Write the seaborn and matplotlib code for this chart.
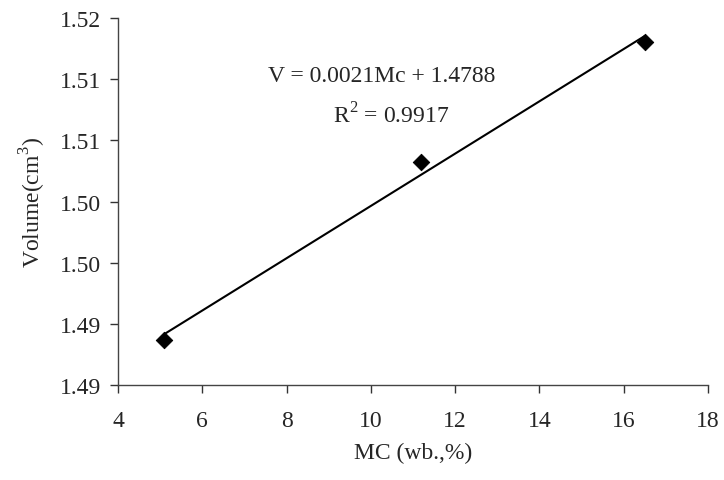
import matplotlib
matplotlib.use("Agg")
import matplotlib.pyplot as plt
import seaborn as sns
import numpy as np
import pandas as pd

# Data
mc = [5.1, 11.2, 16.5]
volume = [1.4887, 1.5032, 1.5130]
y_ticks = [1.485, 1.490, 1.495, 1.500, 1.505, 1.510, 1.515]
y_tick_labels = ["1.49", "1.49", "1.50", "1.50", "1.51", "1.51", "1.52"]
x_ticks = [4, 6, 8, 10, 12, 14, 16, 18]
eq_text = "V = 0.0021Mc + 1.4788"
r2_text = "R$^2$ = 0.9917"

df = pd.DataFrame({"MC": mc, "V": volume})

sns.set_style("ticks")
plt.rcParams["font.family"] = ["Liberation Serif", "DejaVu Serif"]
plt.rcParams["mathtext.fontset"] = "custom"
plt.rcParams["mathtext.rm"] = "Liberation Serif"

W, H = 724, 481
FS = 17
fig = plt.figure(figsize=(W / 100, H / 100), dpi=100)
ax = fig.add_axes([118 / W, 1 - 386 / H, (708 - 118) / W, (386 - 19) / H])

sns.regplot(data=df, x="MC", y="V", ax=ax, scatter=False, ci=None,
            line_kws={"color": "black", "lw": 1.5})
sns.scatterplot(data=df, x="MC", y="V", ax=ax, marker="D", color="black",
                s=70, edgecolor="black", zorder=5)

ax.set_xlim(4, 18)
ax.set_ylim(1.485, 1.515)
ax.set_xticks(x_ticks)
ax.set_yticks(y_ticks)
ax.set_yticklabels(y_tick_labels)
ax.tick_params(axis="both", labelsize=FS, direction="out", length=6,
               width=1, color="#333333")
ax.tick_params(axis="x", pad=12)
ax.tick_params(axis="y", pad=6)

for s in ["top", "right"]:
    ax.spines[s].set_visible(False)
for s in ["left", "bottom"]:
    ax.spines[s].set_color("#444444")
    ax.spines[s].set_linewidth(1)

ax.set_xlabel("MC (wb.,%)", fontsize=FS, labelpad=8)
ax.set_ylabel("Volume(cm$^3$)", fontsize=FS, labelpad=9)

fig.text(382 / W, 1 - 76 / H, eq_text, ha="center", va="center", fontsize=FS)
fig.text(391 / W, 1 - 116 / H, r2_text, ha="center", va="center", fontsize=FS)

fig.savefig("out.png", dpi=100)
